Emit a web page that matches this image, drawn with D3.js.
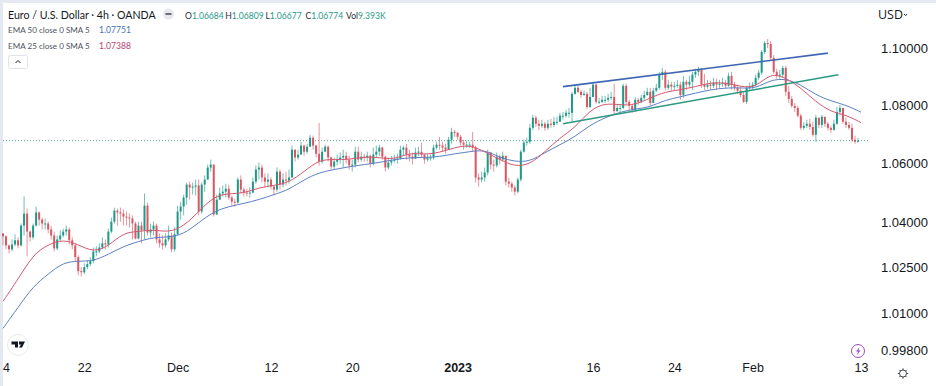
<!DOCTYPE html>
<html lang="en">
<head>
    <meta charset="UTF-8">
    <title>EUR/USD 4h</title>
    <style>
        html, body { margin: 0; padding: 0; background: #fff; }
        svg { display: block; font-family: "Open Sans", "Noto Sans", sans-serif; }
        .xaxis text { font-size: 12.5px; fill: #131722; }
        .yaxis text { font-size: 13px; fill: #131722; }
        #header text { font-family: Lato, "Open Sans", sans-serif; }
        .legend { font-size: 8.1px; fill: #50535e; }
    </style>
</head>

<body>
    <svg id="container" width="936" height="386">
        <rect x="0" y="0" width="936" height="3" fill="#e4e8f0"></rect>
        <rect x="0" y="0" width="3" height="386" fill="#e4e8f0"></rect>
        <g id="lines"></g>
        <g id="candles"></g>
        <g id="header"></g>
    </svg>
</body>

<script src="https://cdn.jsdelivr.net/npm/d3@7"></script>

<script>

    let firstOpen = 1.0363

    let closes = [
        1.0353,1.0323,1.0310,1.0326,1.0340,1.0323,1.0389,1.0429,1.0369,1.0350,
        1.0389,1.0433,1.0409,1.0396,1.0396,1.0376,1.0356,1.0313,1.0343,1.0356,
        1.0369,1.0376,1.0340,1.0323,1.0284,1.0238,1.0234,1.0251,1.0261,1.0271,
        1.0303,1.0303,1.0316,1.0330,1.0326,1.0369,1.0402,1.0439,1.0433,1.0429,
        1.0419,1.0416,1.0413,1.0396,1.0346,1.0389,1.0373,1.0456,1.0366,1.0376,
        1.0389,1.0343,1.0330,1.0323,1.0343,1.0356,1.0310,1.0360,1.0436,1.0453,
        1.0483,1.0527,1.0517,1.0520,1.0524,1.0436,1.0527,1.0544,1.0585,1.0595,
        1.0426,1.0476,1.0497,1.0503,1.0513,1.0483,1.0469,1.0466,1.0544,1.0510,
        1.0500,1.0497,1.0500,1.0537,1.0578,1.0585,1.0551,1.0537,1.0544,1.0520,
        1.0510,1.0571,1.0527,1.0544,1.0541,1.0551,1.0646,1.0619,1.0629,1.0660,
        1.0639,1.0656,1.0687,1.0660,1.0632,1.0605,1.0639,1.0656,1.0619,1.0588,
        1.0605,1.0612,1.0619,1.0625,1.0612,1.0592,1.0595,1.0639,1.0612,1.0622,
        1.0619,1.0625,1.0598,1.0629,1.0639,1.0653,1.0622,1.0585,1.0602,1.0608,
        1.0612,1.0615,1.0646,1.0653,1.0629,1.0622,1.0615,1.0636,1.0639,1.0629,
        1.0612,1.0619,1.0619,1.0653,1.0663,1.0660,1.0653,1.0646,1.0680,1.0707,
        1.0704,1.0690,1.0670,1.0663,1.0663,1.0663,1.0653,1.0551,1.0544,1.0551,
        1.0568,1.0636,1.0595,1.0592,1.0622,1.0612,1.0625,1.0537,1.0530,1.0517,
        1.0503,1.0544,1.0639,1.0670,1.0673,1.0721,1.0756,1.0735,1.0728,1.0735,
        1.0721,1.0735,1.0731,1.0742,1.0742,1.0763,1.0763,1.0773,1.0773,1.0839,
        1.0860,1.0846,1.0835,1.0839,1.0793,1.0828,1.0871,1.0811,1.0811,1.0818,
        1.0818,1.0825,1.0828,1.0779,1.0790,1.0790,1.0867,1.0811,1.0797,1.0783,
        1.0818,1.0811,1.0825,1.0835,1.0846,1.0807,1.0850,1.0860,1.0906,1.0916,
        1.0860,1.0871,1.0864,1.0867,1.0871,1.0835,1.0881,1.0871,1.0881,1.0906,
        1.0916,1.0923,1.0871,1.0864,1.0871,1.0867,1.0878,1.0871,1.0874,1.0878,
        1.0867,1.0902,1.0871,1.0860,1.0850,1.0835,1.0811,1.0860,1.0864,1.0871,
        1.0895,1.0913,1.0986,1.1018,1.1014,1.0965,1.0916,1.0902,1.0906,1.0930,
        1.0846,1.0821,1.0797,1.0790,1.0763,1.0721,1.0728,1.0735,1.0724,1.0697,
        1.0756,1.0731,1.0759,1.0735,1.0721,1.0714,1.0735,1.0776,1.0790,1.0742,
        1.0731,1.0721,1.0680,1.0673,1.0677
    ]

    let highs = [
        1.0363,1.0356,1.0326,1.0343,1.0360,1.0350,1.0396,1.0487,1.0446,1.0373,
        1.0396,1.0453,1.0436,1.0416,1.0413,1.0403,1.0389,1.0369,1.0356,1.0373,
        1.0379,1.0389,1.0383,1.0350,1.0330,1.0290,1.0251,1.0264,1.0274,1.0284,
        1.0316,1.0320,1.0330,1.0350,1.0343,1.0379,1.0416,1.0449,1.0446,1.0449,
        1.0443,1.0436,1.0429,1.0423,1.0402,1.0402,1.0402,1.0497,1.0466,1.0396,
        1.0402,1.0396,1.0363,1.0356,1.0363,1.0389,1.0366,1.0383,1.0456,1.0469,
        1.0493,1.0534,1.0537,1.0534,1.0544,1.0544,1.0534,1.0558,1.0595,1.0612,
        1.0578,1.0493,1.0517,1.0524,1.0530,1.0527,1.0490,1.0479,1.0551,1.0558,
        1.0517,1.0513,1.0517,1.0551,1.0592,1.0602,1.0595,1.0565,1.0565,1.0551,
        1.0524,1.0585,1.0578,1.0565,1.0571,1.0578,1.0660,1.0646,1.0646,1.0673,
        1.0663,1.0666,1.0697,1.0694,1.0663,1.0738,1.0653,1.0663,1.0660,1.0622,
        1.0619,1.0629,1.0636,1.0646,1.0639,1.0625,1.0612,1.0656,1.0656,1.0639,
        1.0632,1.0639,1.0629,1.0653,1.0660,1.0663,1.0656,1.0625,1.0619,1.0625,
        1.0629,1.0632,1.0660,1.0660,1.0666,1.0646,1.0636,1.0653,1.0656,1.0670,
        1.0632,1.0632,1.0629,1.0663,1.0673,1.0690,1.0673,1.0666,1.0690,1.0721,
        1.0714,1.0707,1.0697,1.0680,1.0677,1.0673,1.0707,1.0660,1.0565,1.0571,
        1.0585,1.0646,1.0639,1.0612,1.0636,1.0629,1.0639,1.0622,1.0551,1.0537,
        1.0524,1.0551,1.0646,1.0680,1.0687,1.0735,1.0766,1.0763,1.0749,1.0749,
        1.0742,1.0749,1.0752,1.0759,1.0759,1.0773,1.0776,1.0783,1.0790,1.0846,
        1.0871,1.0867,1.0853,1.0850,1.0846,1.0860,1.0881,1.0874,1.0825,1.0832,
        1.0832,1.0839,1.0846,1.0874,1.0804,1.0804,1.0874,1.0874,1.0818,1.0804,
        1.0828,1.0825,1.0835,1.0850,1.0860,1.0860,1.0860,1.0874,1.0916,1.0930,
        1.0923,1.0888,1.0881,1.0881,1.0888,1.0881,1.0902,1.0888,1.0902,1.0916,
        1.0927,1.0934,1.0930,1.0909,1.0888,1.0885,1.0895,1.0892,1.0888,1.0895,
        1.0888,1.0913,1.0916,1.0881,1.0871,1.0864,1.0846,1.0867,1.0878,1.0881,
        1.0906,1.0923,1.0993,1.1025,1.1032,1.1025,1.0975,1.0927,1.0923,1.0937,
        1.0937,1.0867,1.0832,1.0807,1.0797,1.0769,1.0742,1.0749,1.0752,1.0742,
        1.0766,1.0749,1.0766,1.0756,1.0742,1.0728,1.0749,1.0793,1.0800,1.0790,
        1.0756,1.0742,1.0735,1.0694,1.0687
    ]

    let lows = [
        1.0323,1.0310,1.0297,1.0303,1.0320,1.0313,1.0320,1.0356,1.0287,1.0336,
        1.0343,1.0386,1.0389,1.0376,1.0376,1.0363,1.0343,1.0303,1.0307,1.0336,
        1.0350,1.0356,1.0326,1.0310,1.0271,1.0224,1.0221,1.0228,1.0244,1.0254,
        1.0264,1.0287,1.0297,1.0310,1.0310,1.0316,1.0363,1.0396,1.0389,1.0402,
        1.0389,1.0389,1.0383,1.0343,1.0343,1.0343,1.0330,1.0343,1.0356,1.0350,
        1.0356,1.0330,1.0316,1.0310,1.0316,1.0336,1.0300,1.0303,1.0356,1.0409,
        1.0423,1.0459,1.0476,1.0493,1.0490,1.0423,1.0429,1.0503,1.0551,1.0571,
        1.0419,1.0459,1.0476,1.0487,1.0483,1.0476,1.0456,1.0453,1.0463,1.0497,
        1.0487,1.0487,1.0483,1.0497,1.0530,1.0544,1.0534,1.0517,1.0517,1.0510,
        1.0490,1.0503,1.0510,1.0517,1.0524,1.0530,1.0551,1.0605,1.0612,1.0632,
        1.0625,1.0632,1.0660,1.0646,1.0619,1.0592,1.0598,1.0639,1.0605,1.0578,
        1.0578,1.0592,1.0598,1.0585,1.0598,1.0578,1.0571,1.0585,1.0602,1.0605,
        1.0605,1.0605,1.0585,1.0592,1.0619,1.0625,1.0612,1.0571,1.0578,1.0592,
        1.0602,1.0598,1.0612,1.0625,1.0612,1.0605,1.0595,1.0619,1.0625,1.0619,
        1.0598,1.0605,1.0608,1.0612,1.0646,1.0646,1.0639,1.0632,1.0646,1.0666,
        1.0690,1.0680,1.0660,1.0646,1.0653,1.0653,1.0639,1.0534,1.0520,1.0534,
        1.0537,1.0558,1.0578,1.0571,1.0585,1.0595,1.0605,1.0524,1.0517,1.0503,
        1.0490,1.0497,1.0537,1.0636,1.0660,1.0666,1.0714,1.0724,1.0714,1.0721,
        1.0711,1.0714,1.0721,1.0724,1.0731,1.0742,1.0749,1.0756,1.0756,1.0742,
        1.0835,1.0842,1.0825,1.0832,1.0786,1.0790,1.0839,1.0804,1.0804,1.0807,
        1.0807,1.0811,1.0818,1.0769,1.0776,1.0776,1.0786,1.0804,1.0783,1.0773,
        1.0776,1.0800,1.0807,1.0818,1.0832,1.0797,1.0807,1.0846,1.0853,1.0888,
        1.0850,1.0853,1.0850,1.0853,1.0860,1.0818,1.0825,1.0853,1.0860,1.0853,
        1.0895,1.0902,1.0860,1.0853,1.0857,1.0853,1.0860,1.0853,1.0860,1.0864,
        1.0857,1.0864,1.0853,1.0850,1.0839,1.0828,1.0807,1.0804,1.0853,1.0853,
        1.0864,1.0888,1.0906,1.0979,1.1000,1.0954,1.0909,1.0892,1.0892,1.0895,
        1.0832,1.0807,1.0790,1.0776,1.0756,1.0714,1.0714,1.0721,1.0714,1.0690,
        1.0673,1.0721,1.0721,1.0724,1.0711,1.0704,1.0711,1.0731,1.0766,1.0735,
        1.0721,1.0714,1.0673,1.0666,1.0670
    ]

    // both EMAs read every 5th candle
    let ema25 = [
        1.0139,1.0211,1.0293,1.0326,1.0343,1.0326,1.0300,1.0320,1.0366,1.0369,
        1.0376,1.0366,1.0386,1.0436,1.0487,1.0497,1.0497,1.0517,1.0524,1.0534,
        1.0571,1.0612,1.0612,1.0612,1.0622,1.0619,1.0612,1.0636,1.0629,1.0636,
        1.0653,1.0663,1.0639,1.0612,1.0588,1.0595,1.0639,1.0687,1.0721,1.0783,
        1.0807,1.0800,1.0800,1.0825,1.0846,1.0853,1.0864,1.0878,1.0878,1.0864,
        1.0860,1.0913,1.0895,1.0860,1.0811,1.0776,1.0766,1.0739
    ]

    let ema50 = [
        1.0051,1.0119,1.0188,1.0228,1.0267,1.0271,1.0271,1.0293,1.0320,1.0336,
        1.0350,1.0350,1.0360,1.0399,1.0436,1.0453,1.0463,1.0476,1.0493,1.0510,
        1.0544,1.0568,1.0578,1.0588,1.0595,1.0602,1.0612,1.0619,1.0619,1.0622,
        1.0632,1.0639,1.0646,1.0619,1.0605,1.0605,1.0636,1.0663,1.0690,1.0731,
        1.0756,1.0776,1.0786,1.0793,1.0818,1.0828,1.0842,1.0853,1.0860,1.0860,
        1.0857,1.0888,1.0892,1.0871,1.0835,1.0814,1.0800,1.0775
    ]

    let upperChannel = [{ i: 186, p: 1.0864 }, { i: 274, p: 1.0982 }]
    let lowerChannel = [{ i: 186, p: 1.0735 }, { i: 277.5, p: 1.0906 }]

    let xTickIndex = [1, 27, 58, 89, 116, 151, 196, 223, 249, 285]
    let xTickLabels = ["4", "22", "Dec", "12", "20", "2023", "16", "24", "Feb", "13"]

    let yTicks = [1.10, 1.08, 1.06, 1.04, 1.025, 1.01, 0.998]

    let legendRows = [
        { name: "EMA 50 close 0 SMA 5", value: "1.07751", color: "#4a6fb5" },
        { name: "EMA 25 close 0 SMA 5", value: "1.07388", color: "#b8436f" }
    ]
    let ohlc = [["O", "1.06684"], ["H", "1.06809"], ["L", "1.06677"], ["C", "1.06774"]]

    let upColor = "#1f9a88"
    let downColor = "#d95763"

    let svg = d3.select("#container")

    let x = d3.scaleLinear().domain([0, closes.length - 1]).range([3, 858])
    let y = d3.scaleLog().domain([1.10, 0.998]).range([48, 350.4])

    let candles = closes.map((c, i) => ({
        i: i,
        open: i == 0 ? firstOpen : closes[i - 1],
        close: c,
        high: highs[i],
        low: lows[i]
    }))

    // last price line
    svg.select("#lines").append("line")
        .attr("x1", 3)
        .attr("x2", 870)
        .attr("y1", y(closes[closes.length - 1]))
        .attr("y2", y(closes[closes.length - 1]))
        .attr("stroke", "#4fa79b")
        .attr("stroke-width", 1)
        .attr("stroke-dasharray", "1 2")

    let g = svg.select("#candles").selectAll("g")
        .data(candles)
        .enter()
        .append("g")
        .attr("fill", d => d.close >= d.open ? upColor : downColor)
        .attr("stroke", d => d.close >= d.open ? upColor : downColor)

    g.append("line")
        .attr("x1", d => x(d.i))
        .attr("x2", d => x(d.i))
        .attr("y1", d => y(Math.max(d.high, d.open, d.close)))
        .attr("y2", d => y(Math.min(d.low, d.open, d.close)))
        .attr("stroke-width", 0.8)
        .attr("stroke-opacity", 0.8)

    g.append("rect")
        .attr("x", d => x(d.i) - 1)
        .attr("width", 2)
        .attr("y", d => y(Math.max(d.open, d.close)))
        .attr("height", d => Math.max(1, Math.abs(y(d.open) - y(d.close))))
        .attr("stroke", "none")

    let emaLine = d3.line()
        .x((d, i) => x(i * 5))
        .y(d => y(d))
        .curve(d3.curveBasis)

    svg.append("path")
        .attr("d", emaLine(ema50))
        .attr("fill", "none")
        .attr("stroke", "#5d7fc4")
        .attr("stroke-width", 1)

    svg.append("path")
        .attr("d", emaLine(ema25))
        .attr("fill", "none")
        .attr("stroke", "#d4586f")
        .attr("stroke-width", 1)

    let channelLine = d3.line()
        .x(d => x(d.i))
        .y(d => y(d.p))

    svg.append("path")
        .attr("d", channelLine(upperChannel))
        .attr("fill", "none")
        .attr("stroke", "#3f66b3")
        .attr("stroke-width", 1.6)

    svg.append("path")
        .attr("d", channelLine(lowerChannel))
        .attr("fill", "none")
        .attr("stroke", "#2b9a80")
        .attr("stroke-width", 1.6)

    // axes
    let xAxis = d3.axisBottom(x)
        .tickValues(xTickIndex)
        .tickFormat((d, i) => xTickLabels[i])
        .tickSize(0)

    let xG = svg.append("g")
        .attr("class", "xaxis")
        .attr("transform", "translate(0,360)")
        .call(xAxis)
    xG.select(".domain").remove()
    xG.selectAll("text")
        .attr("font-family", "inherit")
        .style("font-weight", (d, i) => xTickLabels[i] == "2023" ? "bold" : "normal")

    let yAxis = d3.axisRight(y)
        .tickValues(yTicks)
        .tickFormat(d3.format(".5f"))
        .tickSize(0)
        .tickPadding(0)

    let yG = svg.append("g")
        .attr("class", "yaxis")
        .attr("transform", "translate(881,0)")
        .call(yAxis)
    yG.select(".domain").remove()
    yG.selectAll("text").attr("font-family", "inherit")

    svg.append("text")
        .attr("x", 878)
        .attr("y", 19)
        .attr("font-size", 12.5)
        .attr("fill", "#131722")
        .text("USD")
    svg.append("path")
        .attr("d", "M904 14l1.6 1.6 1.6-1.6")
        .attr("fill", "none")
        .attr("stroke", "#131722")

    // header
    let header = svg.select("#header")

    header.append("text")
        .attr("x", 8)
        .attr("y", 19)
        .attr("font-size", 10.6)
        .attr("fill", "#131722")
        .text("Euro / U.S. Dollar · 4h · OANDA")

    header.append("circle")
        .attr("cx", 168.5)
        .attr("cy", 14)
        .attr("r", 5.5)
        .attr("fill", "#e6e8ee")
    header.append("rect")
        .attr("x", 165.5)
        .attr("y", 13)
        .attr("width", 6)
        .attr("height", 2)
        .attr("fill", "#6a6d78")

    ohlc.forEach((d, i) => {
        let t = header.append("text")
            .attr("x", 185 + i * 40.2)
            .attr("y", 19)
            .attr("font-size", 8.6)
        t.append("tspan").attr("fill", "#2a2e39").text(d[0])
        t.append("tspan").attr("fill", "#2a9a88").text(d[1])
    })
    let vol = header.append("text")
        .attr("x", 346)
        .attr("y", 19)
        .attr("font-size", 8.6)
    vol.append("tspan").attr("fill", "#2a2e39").text("Vol")
    vol.append("tspan").attr("fill", "#2a9a88").text("9.393K")

    legendRows.forEach((d, i) => {
        header.append("text")
            .attr("class", "legend")
            .attr("x", 8)
            .attr("y", 33 + i * 16)
            .text(d.name)
        header.append("text")
            .attr("x", 99)
            .attr("y", 33 + i * 16)
            .attr("font-size", 8.6)
            .attr("fill", d.color)
            .text(d.value)
    })

    header.append("rect")
        .attr("x", 8.5)
        .attr("y", 55.5)
        .attr("width", 19)
        .attr("height", 13)
        .attr("rx", 2)
        .attr("fill", "#fff")
        .attr("stroke", "#e0e3eb")
    header.append("path")
        .attr("d", "M15.5 63l2.5-2.5 2.5 2.5")
        .attr("fill", "none")
        .attr("stroke", "#131722")

    // tradingview badge
    header.append("circle")
        .attr("cx", 18)
        .attr("cy", 345)
        .attr("r", 10.5)
        .attr("fill", "#fff")
        .attr("stroke", "#e8eaef")
    header.append("path")
        .attr("d", "M11.5 341.5h6.5v6h-3v-3h-3.5zM19 341.5h6l-3 6h-3l2-3h-2z")
        .attr("fill", "#131722")

    // lightning icon
    header.append("circle")
        .attr("cx", 858)
        .attr("cy", 351)
        .attr("r", 6.5)
        .attr("fill", "none")
        .attr("stroke", "#9c4dc4")
    header.append("path")
        .attr("d", "M859.5 347l-3.5 4.5h2l-1 3.5 3.5-4.5h-2z")
        .attr("fill", "#9c4dc4")

    // settings icon
    header.append("circle")
        .attr("cx", 903)
        .attr("cy", 373.5)
        .attr("r", 3.5)
        .attr("fill", "none")
        .attr("stroke", "#434651")
    d3.range(8).forEach(k => {
        let a = k * Math.PI / 4
        header.append("line")
            .attr("x1", 903 + 3.5 * Math.cos(a))
            .attr("y1", 373.5 + 3.5 * Math.sin(a))
            .attr("x2", 903 + 5.2 * Math.cos(a))
            .attr("y2", 373.5 + 5.2 * Math.sin(a))
            .attr("stroke", "#434651")
    })

</script>

</html>
